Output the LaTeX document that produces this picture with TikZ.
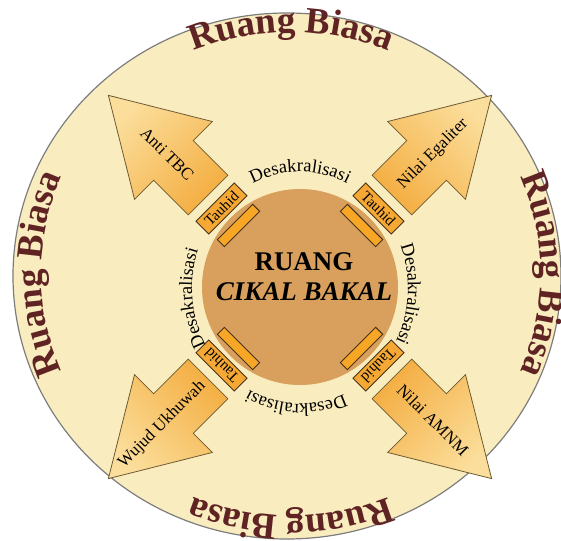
\documentclass[tikz,border=0pt]{standalone}
\usepackage{fontspec}
\setmainfont{Liberation Serif}
\usetikzlibrary{decorations.text}

\definecolor{ringfill}{RGB}{249,236,190}
\definecolor{ringedge}{RGB}{125,125,125}
\definecolor{biasa}{RGB}{95,35,35}
\definecolor{corefill}{RGB}{216,160,92}
\definecolor{arrowbase}{RGB}{244,174,66}
\definecolor{arrowtip}{RGB}{251,222,155}
\definecolor{arrowedge}{RGB}{110,90,50}
\definecolor{tauhidfill}{RGB}{246,168,52}
\definecolor{barfill}{RGB}{248,166,38}
\definecolor{boxedge}{RGB}{70,50,25}

\begin{document}
\begin{tikzpicture}[x=1pt, y=1pt]
        % Common Styles
        \tikzset{ring/.style={fill=ringfill, draw=ringedge, line width=1.2pt}}
        \tikzset{biasatext/.style={decorate, decoration={text along path, text align=center, text color=biasa, text={|\fontsize{37}{37}\selectfont\bfseries|Ruang Biasa}}}}
        \tikzset{desatext/.style={decorate, decoration={text along path, text align=center, text={|\fontsize{18.5}{18.5}\selectfont|Desakralisasi}}}}
        \tikzset{bigarrow/.style={draw=arrowedge, line width=0.8pt, top color=arrowtip, bottom color=arrowbase, shading angle=#1}}
        \tikzset{arrowlabel/.style={font=\fontsize{17}{17}\selectfont, inner sep=0pt}}
        \tikzset{tauhid/.style={draw=boxedge, fill=tauhidfill, line width=0.9pt, minimum width=54pt, minimum height=18pt, inner sep=0pt, font=\fontsize{15}{15}\selectfont}}
        \tikzset{bar/.style={draw=boxedge, fill=barfill, line width=0.9pt, minimum width=50pt, minimum height=10pt, inner sep=0pt}}

        \useasboundingbox (0,0) rectangle (561,540);
        \coordinate (core) at (300,253);
        \coordinate (rim) at (291,266);

        % Outer ring and its labels
        \path[ring] (287,264) ellipse[x radius=274, y radius=263];
        \path[biasatext] (rim) ++(150:250 and 242) arc[start angle=150, end angle=30, x radius=250, y radius=242];
        \path[biasatext] (rim) ++(60:250 and 242) arc[start angle=60, end angle=-60, x radius=250, y radius=242];
        \path[biasatext] (rim) ++(-30:250 and 242) arc[start angle=-30, end angle=-150, x radius=250, y radius=242];
        \path[biasatext] (rim) ++(240:250 and 242) arc[start angle=240, end angle=120, x radius=250, y radius=242];

        % 1. Anti TBC
        \begin{scope}[shift={(core)}, rotate=135]
            \path[bigarrow=45] (130,-28) -- (179,-28) -- (179,-55) -- (271,0) -- (179,55) -- (179,28) -- (130,28) -- cycle;
            \node[arrowlabel, rotate=-45] (tbc) at (188,0) {Anti TBC};
        \end{scope}

        % 2. Nilai Egaliter
        \begin{scope}[shift={(core)}, rotate=45]
            \path[bigarrow=-45] (130,-28) -- (179,-28) -- (179,-55) -- (271,0) -- (179,55) -- (179,28) -- (130,28) -- cycle;
            \node[arrowlabel, rotate=45] (egaliter) at (188,0) {Nilai Egaliter};
        \end{scope}

        % 3. Nilai AMNM
        \begin{scope}[shift={(core)}, rotate=-45]
            \path[bigarrow=-135] (130,-28) -- (179,-28) -- (179,-55) -- (271,0) -- (179,55) -- (179,28) -- (130,28) -- cycle;
            \node[arrowlabel, rotate=-45] (amnm) at (188,0) {Nilai AMNM};
        \end{scope}

        % 4. Wujud Ukhuwah
        \begin{scope}[shift={(core)}, rotate=-135]
            \path[bigarrow=135] (130,-28) -- (179,-28) -- (179,-55) -- (271,0) -- (179,55) -- (179,28) -- (130,28) -- cycle;
            \node[arrowlabel, rotate=45] (ukhuwah) at (195,0) {Wujud Ukhuwah};
        \end{scope}

        % Core
        \fill[corefill] (core) circle[radius=98];
        \node[align=center, font=\fontsize{27}{30}\selectfont\bfseries] (cikal) at (304,263) {RUANG\\\textit{CIKAL BAKAL}};

        % Tauhid gates
        \begin{scope}[shift={(core)}, rotate=135]
            \node[bar, rotate=45] (bar1) at (87,0) {};
            \node[tauhid, rotate=45] (tauhid1) at (111,0) {Tauhid};
        \end{scope}
        \begin{scope}[shift={(core)}, rotate=45]
            \node[bar, rotate=-45] (bar2) at (87,0) {};
            \node[tauhid, rotate=-45] (tauhid2) at (111,0) {Tauhid};
        \end{scope}
        \begin{scope}[shift={(core)}, rotate=-45]
            \node[bar, rotate=-135] (bar3) at (87,0) {};
            \node[tauhid, rotate=-135] (tauhid3) at (111,0) {Tauhid};
        \end{scope}
        \begin{scope}[shift={(core)}, rotate=-135]
            \node[bar, rotate=135] (bar4) at (87,0) {};
            \node[tauhid, rotate=135] (tauhid4) at (111,0) {Tauhid};
        \end{scope}

        % Desakralisasi ring
        \path[desatext] (300,252) ++(128:108 and 116) arc[start angle=128, end angle=52, x radius=108, y radius=116];
        \path[desatext] (300,252) ++(35:108 and 116) arc[start angle=35, end angle=-41, x radius=108, y radius=116];
        \path[desatext] (300,252) ++(-54:108 and 116) arc[start angle=-54, end angle=-130, x radius=108, y radius=116];
        \path[desatext] (300,252) ++(223:108 and 116) arc[start angle=223, end angle=147, x radius=108, y radius=116];
\end{tikzpicture}
\end{document}
